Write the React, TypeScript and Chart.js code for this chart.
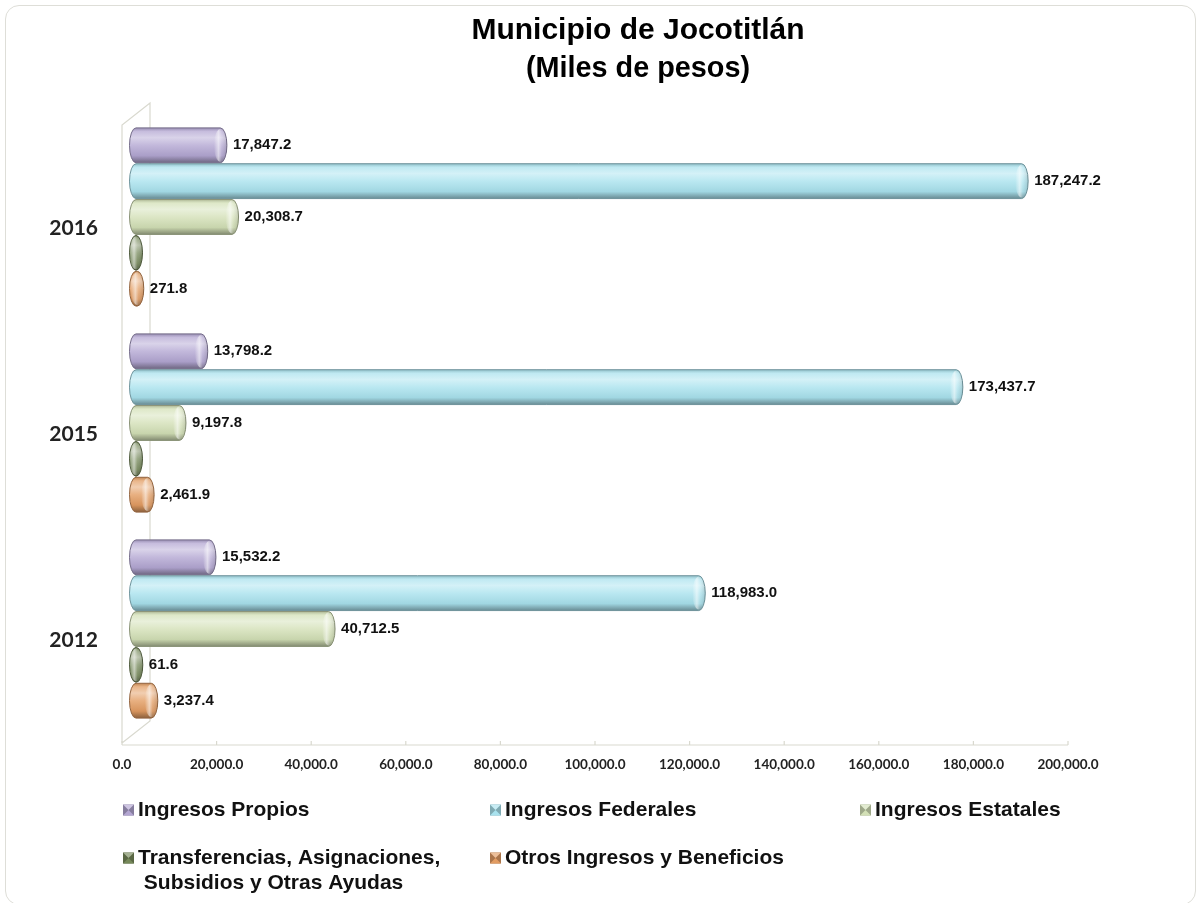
import React, { useEffect, useRef } from "react";
import { Chart, registerables } from "chart.js";

Chart.register(...registerables);

const years = ["2016", "2015", "2012"];
const seriesNames = [
  "Ingresos Propios",
  "Ingresos Federales",
  "Ingresos Estatales",
  "Transferencias, Asignaciones,\n Subsidios y Otras Ayudas",
  "Otros Ingresos y Beneficios",
];
const ingresosPropios = [17847.2, 13798.2, 15532.2];
const ingresosFederales = [187247.2, 173437.7, 118983.0];
const ingresosEstatales = [20308.7, 9197.8, 40712.5];
const transferencias = [0, 0, 61.6];
const otrosIngresos = [271.8, 2461.9, 3237.4];
const seriesColors = ["#b3a6d2", "#a9e2ee", "#d3e0b6", "#76895a", "#e29c62"];
const xTicksMax = 200000;
const xTickStep = 20000;
const titleLines = ["Municipio de Jocotitlán", "(Miles de pesos)"];

const WALL = "#d9d9cf";
const DEPTH_X = 28;
const DEPTH_Y = 22;
const CAP_RX = 6.5;

function hexToRgb(h: string) {
  const n = parseInt(h.slice(1), 16);
  return [(n >> 16) & 255, (n >> 8) & 255, n & 255];
}
function shade(h: string, f: number) {
  const [r, g, b] = hexToRgb(h);
  if (f >= 0) {
    return `rgb(${Math.round(r + (255 - r) * f)},${Math.round(g + (255 - g) * f)},${Math.round(b + (255 - b) * f)})`;
  }
  const k = 1 + f;
  return `rgb(${Math.round(r * k)},${Math.round(g * k)},${Math.round(b * k)})`;
}

function fmt(v: number) {
  return v.toLocaleString("en-US", { minimumFractionDigits: 1, maximumFractionDigits: 1 });
}

function drawCylinder(ctx: CanvasRenderingContext2D, x0: number, x1: number, yc: number, h: number, color: string) {
  const top = yc - h / 2;
  const bot = yc + h / 2;
  const ry = h / 2;
  const g = ctx.createLinearGradient(0, top, 0, bot);
  g.addColorStop(0, shade(color, -0.15));
  g.addColorStop(0.1, shade(color, 0.25));
  g.addColorStop(0.28, shade(color, 0.5));
  g.addColorStop(0.5, shade(color, 0.2));
  g.addColorStop(0.8, shade(color, -0.05));
  g.addColorStop(1, shade(color, -0.38));
  ctx.save();
  ctx.beginPath();
  ctx.moveTo(x0, top);
  ctx.lineTo(x1, top);
  ctx.ellipse(x1, yc, CAP_RX, ry, 0, -Math.PI / 2, Math.PI / 2);
  ctx.lineTo(x0, bot);
  ctx.ellipse(x0, yc, CAP_RX, ry, 0, Math.PI / 2, (3 * Math.PI) / 2);
  ctx.closePath();
  ctx.fillStyle = g;
  ctx.fill();
  ctx.lineWidth = 1;
  ctx.strokeStyle = shade(color, -0.35);
  ctx.stroke();
  const fg = ctx.createLinearGradient(x1 - CAP_RX, 0, x1 + CAP_RX, 0);
  fg.addColorStop(0, "rgba(255,255,255,0)");
  fg.addColorStop(0.35, "rgba(255,255,255,0.55)");
  fg.addColorStop(0.6, "rgba(255,255,255,0.1)");
  fg.addColorStop(1, "rgba(0,0,0,0.12)");
  ctx.beginPath();
  ctx.ellipse(x1, yc, CAP_RX, ry - 1, 0, 0, Math.PI * 2);
  ctx.fillStyle = fg;
  ctx.fill();
  ctx.restore();
}

const scenePlugin = {
  id: "scene3d",
  beforeDatasetsDraw(chart: any) {
    const { ctx, chartArea: a } = chart;
    ctx.save();
    ctx.strokeStyle = WALL;
    ctx.lineWidth = 1.2;
    ctx.beginPath();
    ctx.moveTo(a.left, a.bottom);
    ctx.lineTo(a.left, a.top);
    ctx.lineTo(a.left + DEPTH_X, a.top - DEPTH_Y);
    ctx.lineTo(a.left + DEPTH_X, a.bottom - DEPTH_Y);
    ctx.lineTo(a.left, a.bottom);
    ctx.stroke();
    ctx.beginPath();
    ctx.moveTo(a.left, a.bottom + 2);
    ctx.lineTo(a.right, a.bottom + 2);
    const xs = chart.scales.x;
    xs.ticks.forEach((t: any) => {
      const px = xs.getPixelForValue(t.value);
      ctx.moveTo(px, a.bottom + 2);
      ctx.lineTo(px, a.bottom - 2);
    });
    ctx.stroke();
    ctx.restore();
  },
  afterDatasetsDraw(chart: any) {
    const { ctx } = chart;
    const dx = DEPTH_X / 2;
    const dy = -DEPTH_Y / 2;
    chart.data.datasets.forEach((ds: any, di: number) => {
      const meta = chart.getDatasetMeta(di);
      meta.data.forEach((el: any, i: number) => {
        const x0 = el.base + dx;
        const x1 = el.x + dx;
        const yc = el.y + dy;
        drawCylinder(ctx, x0, x1, yc, el.height - 1, seriesColors[di]);
        const v = ds.data[i];
        if (v > 0) {
          ctx.save();
          ctx.font = "bold 15px 'Liberation Sans', Arial, sans-serif";
          ctx.fillStyle = "#111";
          ctx.textBaseline = "middle";
          ctx.textAlign = "left";
          ctx.fillText(fmt(v), x1 + CAP_RX + 6, yc);
          ctx.restore();
        }
      });
    });
    ctx.save();
    ctx.fillStyle = "#000";
    ctx.textAlign = "center";
    ctx.textBaseline = "middle";
    ctx.font = "bold 30px 'Liberation Sans', Arial, sans-serif";
    ctx.fillText(titleLines[0], 638, 31, 333);
    ctx.fillText(titleLines[1], 638, 69, 224);
    ctx.restore();
    const cols = [123, 490, 860];
    const rows = [810, 858];
    ctx.save();
    ctx.font = "bold 21px 'Liberation Sans', Arial, sans-serif";
    ctx.textBaseline = "middle";
    ctx.textAlign = "left";
    seriesNames.forEach((name, i) => {
      const x = cols[i % 3];
      const y = rows[Math.floor(i / 3)];
      const c = seriesColors[i];
      const s = 11;
      const mx = x;
      const my = y - s / 2;
      ctx.fillStyle = shade(c, -0.25);
      ctx.fillRect(mx, my, s, s);
      ctx.fillStyle = shade(c, 0.35);
      ctx.beginPath();
      ctx.moveTo(mx, my);
      ctx.lineTo(mx + s, my);
      ctx.lineTo(mx + s / 2, my + s / 2);
      ctx.closePath();
      ctx.fill();
      ctx.fillStyle = c;
      ctx.beginPath();
      ctx.moveTo(mx, my + s);
      ctx.lineTo(mx + s, my + s);
      ctx.lineTo(mx + s / 2, my + s / 2);
      ctx.closePath();
      ctx.fill();
      ctx.fillStyle = "#111";
      const lines = name.split("\n");
      lines.forEach((ln, li) => {
        ctx.fillText(ln, x + 15, y + li * 25);
      });
    });
    ctx.restore();
  },
};

export default function App() {
  const ref = useRef<HTMLCanvasElement | null>(null);
  useEffect(() => {
    if (!ref.current) return;
    const all = [ingresosPropios, ingresosFederales, ingresosEstatales, transferencias, otrosIngresos];
    const chart = new Chart(ref.current, {
      type: "bar",
      data: {
        labels: years,
        datasets: all.map((d, i) => ({
          label: seriesNames[i],
          data: d,
          backgroundColor: "rgba(0,0,0,0)",
          borderWidth: 0,
          categoryPercentage: 0.87,
          barPercentage: 1.0,
        })),
      },
      options: {
        indexAxis: "y",
        responsive: false,
        animation: false,
        layout: { padding: { top: 125, right: 136, left: 0, bottom: 0 } },
        plugins: { legend: { display: false }, tooltip: { enabled: false }, title: { display: false } },
        scales: {
          x: {
            min: 0,
            max: xTicksMax,
            afterFit(s: any) {
              s.height = 160;
            },
            ticks: {
              stepSize: xTickStep,
              padding: 14,
              color: "#222",
              font: { family: "Lato, 'Liberation Sans', sans-serif", weight: "bold", size: 13.5 },
              callback: (v: any) => fmt(Number(v)),
              maxRotation: 0,
            },
            grid: { display: false, drawTicks: false },
            border: { display: false },
          },
          y: {
            afterFit(s: any) {
              s.width = 122;
            },
            ticks: {
              padding: 24,
              color: "#222",
              font: { family: "Lato, 'Liberation Sans', sans-serif", weight: "bold", size: 21 },
            },
            grid: { display: false, drawTicks: false },
            border: { display: false },
          },
        },
      },
      plugins: [scenePlugin],
    } as any);
    return () => chart.destroy();
  }, []);
  return (
    <div style={{ position: "absolute", left: 0, top: 0, width: 1204, height: 903, background: "#fff" }}>
      <div
        style={{
          position: "absolute",
          left: 5,
          top: 5,
          width: 1191,
          height: 900,
          border: "1px solid #deded8",
          borderRadius: 14,
          boxSizing: "border-box",
        }}
      />
      <canvas ref={ref} width={1204} height={903} style={{ position: "absolute", left: 0, top: 0 }} />
    </div>
  );
}
